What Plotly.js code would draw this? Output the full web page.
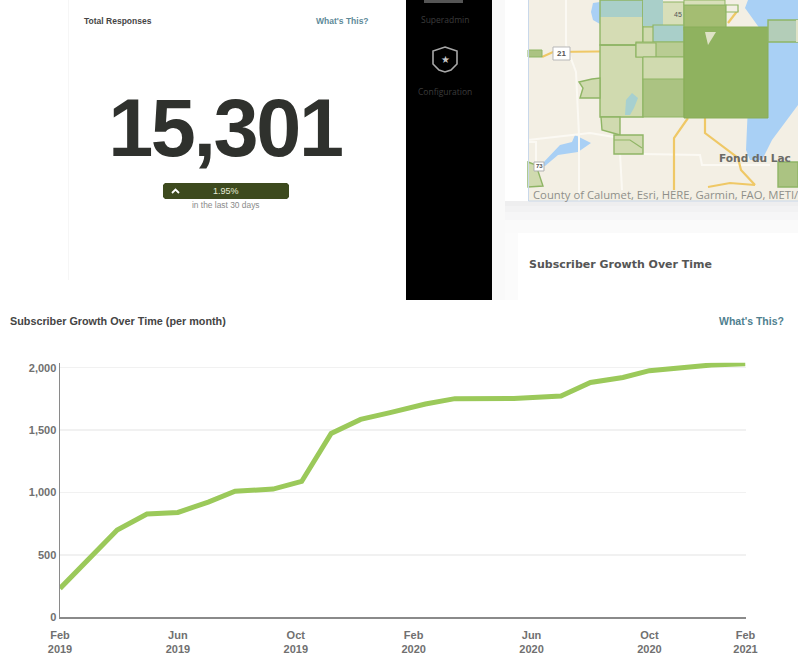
<!DOCTYPE html>
<html><head><meta charset="utf-8">
<script src="https://cdn.plot.ly/plotly-3.0.1.min.js"></script>
<style>
html,body{margin:0;padding:0;background:#fff;}
#chart{width:798px;height:660px;}
.annotation[data-index="0"] text{letter-spacing:-2.4px;}
</style></head><body><div id="chart"></div>
<script>
const monthsSinceStart = [0,0.95,1.94,2.95,4,5.03,5.94,7.23,8.2,9.2,10.2,11.2,12.4,13.4,15.4,17,18,19.1,20,22.1,23.26];
const subscribers = [232,465,700,828,841,924,1010,1028,1089,1474,1586,1640,1709,1752,1754,1773,1882,1922,1976,2021,2032];
const xTickVals = [0,4,8,12,16,20,23.26];
const xTickText = ['Feb<br>2019','Jun<br>2019','Oct<br>2019','Feb<br>2020','Jun<br>2020','Oct<br>2020','Feb<br>2021'];
const yTickVals = [0,500,1000,1500,2000];
const yTickText = ['0','500','1,000','1,500','2,000'];

const W=798,H=660;
const fx=x=>x/W, fy=y=>1-y/H;
function poly(pts,fill,line,lw,open){
  const d=pts.map((p,i)=>(i?'L':'M')+fx(p[0]).toFixed(5)+' '+fy(p[1]).toFixed(5)).join(' ')+(open?'':' Z');
  return {type:'path',xref:'paper',yref:'paper',path:d,layer:'below',
    fillcolor:open?'rgba(0,0,0,0)':fill,line:{color:line||'rgba(0,0,0,0)',width:lw||0}};
}
function box(x0,y0,x1,y1,fill,line,lw){return poly([[x0,y0],[x1,y0],[x1,y1],[x0,y1]],fill,line,lw);}
function road(pts,c,w){return poly(pts,null,c||'#efc866',w||2.2,true);}
const G='#8fb565', L='#d0daaf', M='#abc382', D='#8fb25f', T='#a9cfc9', W2='#a9d0f5';
const shapes=[
  // page chrome
  box(68,0,69,280,'#f6f6f6'),
  box(406,0,492,300,'#000000'),
  box(492,0,505,300,'#f9f9f9'),
  box(505,201,798,206,'#eeeeef'),
  box(505,206,798,212,'#f2f2f3'),
  box(505,212,798,220,'#f6f6f7'),
  box(505,220,798,233,'#fafafa'),
  box(505,233,518,300,'#fbfbfb'),
  // map base
  box(528,0,798,201,'#f3efe4'),
  // water
  poly([[748,0],[798,0],[798,105],[772,140],[762,160],[750,160],[746,150],[748,105],[768,40],[745,8]],W2),
  poly([[541,165],[560,145],[572,142],[575,135],[591,143],[578,152],[558,155],[545,166]],W2),
  // white roads
  road([[566,0],[566,45],[576,72],[579,135],[579,201]],'#fbf9f3',2),
  road([[528,140],[590,133],[614,137]],'#fbf9f3',2),
  road([[528,142],[536,142],[536,185]],'#fbf9f3',2),
  road([[620,153],[622,190]],'#fbf9f3',2),
  road([[642,154],[700,155],[702,165],[770,165]],'#fbf9f3',2),
  // roads
  road([[542,57],[553,52],[640,51]]),
  road([[688,118],[674,138],[674,190]]),
  road([[705,118],[705,133],[738,158],[741,170],[755,185]]),
  road([[708,187],[730,183],[755,185]]),
  road([[728,23],[738,10]]),
  // townships
  poly([[593,3],[600,2],[600,24],[593,20],[591,12]],W2),
  box(600,0,643,24,T),
  box(600,17,643,45,'#d5dcb4'),
  box(600,45,643,117,L,G,1.4),
  box(600,0,643,45,'rgba(0,0,0,0)',G,1.4),
  box(643,2,684,27,'#d8dfb9',G,1.2),
  box(643,0,663,26,T),
  box(643,27,684,57,L,G,1.2),
  box(653,25,684,42,T,G,1.2),
  box(636,42,684,57,'#b9cc93',G,1.2),
  box(636,43,656,57,L,G,1.2),
  box(643,57,684,80,L,G,1),
  box(643,79,684,117,M,G,1.2),
  poly([[625,115],[626,100],[632,93],[638,98],[634,108],[630,115]],'#a7d0d0'),
  poly([[579,82],[592,79],[600,78],[600,98],[580,98],[583,88]],L,G,1.4),
  poly([[601,117],[620,117],[620,135],[602,130]],L,G,1.4),
  box(614,135,643,154,L,G,1.4),
  road([[614,140],[630,140],[642,148]],G,1.2),
  poly([[528,50],[542,50],[542,57],[528,57]],M,G,1),
  poly([[528,162],[536,165],[543,186],[528,187]],L,G,1.4),
  poly([[778,162],[798,162],[798,187],[778,187]],M,G,1.4),
  // central block
  box(684,5,726,30,'#a4bd72',G,1.2),
  box(684,0,725,5,'#d8dfb9',G,1),
  box(726,5,738,12,'#f3efe4',G,1.2),
  box(684,27,768,118,D,'#88ad58',1),
  poly([[705,32],[716,32],[708,45]],'#dfe2c6'),
  box(768,20,798,42,'#b3cdb8',G,1.4),
  box(796,20,798,42,'#dfe2c6'),
  // map frame
  road([[528.5,0],[528.5,201],[798,201]],'#c9d8ea',1),
  // map shields
  box(553,47,570,60,'#ffffff','#b8b8b8',1),
  box(534,162,544,171,'#ffffff','#b0b0b0',1),
  // pill
  poly([[165,183],[287,183],[289,185],[289,197],[287,199],[165,199],[163,197],[163,185]],'#3d4a1e'),
  road([[172,193],[175.5,189.5],[179,193]],'#ffffff',1.8),
  // sidebar icon
  box(424,0,463,3,'#555555'),
  poly([[445,47],[457,51],[457,64],[451,70],[445,72],[439,70],[433,64],[433,51]],'rgba(0,0,0,0)','#a8a8a8',1.6)
];
function note(text,x,y,size,color,anchor,weight,family){
  return {text:text,xref:'paper',yref:'paper',x:fx(x),y:fy(y),xanchor:anchor||'left',yanchor:'middle',showarrow:false,
    font:{size:size,color:color,weight:weight||400,family:family||'"Liberation Sans",Arial,sans-serif'}};
}
const annotations=[
  note('15,301',224.5,128,81,'#2f312d','center',700),
  note('Total Responses',82,21,8.5,'#454545','left',700),
  note("What's This?",371,21,8.5,'#5e8a99','right',700),
  note('1.95%',226,191,9,'#e8ecd8','center',400),
  note('in the last 30 days',225.5,205.5,8.4,'#8a8a8a','center'),
  note('Superadmin',445,19.5,8.5,'#3c3c3c','center',400,'"Open Sans",sans-serif'),
  note('Configuration',445,91,8.5,'#3c3c3c','center',400,'"Open Sans",sans-serif'),
  note('★',445,59.5,10,'#c8c8c8','center'),
  note('45',678,14,7,'#555555','center',400),
  note('21',561,53.5,8,'#555555','center',700),
  note('73',539,166.5,6,'#555555','center',700),
  note('Fond du Lac',755,158,10.6,'#6b6b66','center',700,'"DejaVu Sans",sans-serif'),
  note('County of Calumet, Esri, HERE, Garmin, FAO, METI/',531,194,11.3,'#8f8f8a','left',400,'"Open Sans",sans-serif'),
  note('Subscriber Growth Over Time',527,264.5,11,'#555555','left',700,'"DejaVu Sans",sans-serif'),
  note("What's This?",786,321,10.5,'#4f7f8f','right',700)
];
const tickFont={size:11,color:'#707070',family:'"Liberation Sans",Arial,sans-serif',weight:700};
const layout={
  width:W,height:H,margin:{l:0,r:0,t:0,b:0},autosize:false,showlegend:false,
  paper_bgcolor:'#ffffff',plot_bgcolor:'rgba(0,0,0,0)',
  title:{text:'Subscriber Growth Over Time (per month)',x:10/W,xanchor:'left',xref:'paper',y:fy(321),yanchor:'middle',
    font:{size:10.8,color:'#444444',weight:700,family:'"Liberation Sans",Arial,sans-serif'}},
  xaxis:{domain:[60/W,745.5/W],range:[0,23.26],tickmode:'array',tickvals:xTickVals,ticktext:xTickText,showgrid:false,zeroline:false,
    showline:true,linecolor:'#8a8a8a',linewidth:1.5,ticks:'outside',ticklen:7,tickcolor:'rgba(0,0,0,0)',tickangle:0,tickfont:tickFont,fixedrange:true},
  yaxis:{domain:[1-617.4/H,1-362.7/H],range:[0,2040],tickmode:'array',tickvals:yTickVals,ticktext:yTickText,showgrid:true,gridcolor:'#f1f1f1',gridwidth:1.6,zeroline:false,
    showline:true,linecolor:'#8a8a8a',linewidth:1.5,ticks:'outside',ticklen:0,tickcolor:'rgba(0,0,0,0)',tickfont:tickFont,fixedrange:true},
  shapes:shapes,annotations:annotations
};
const trace={x:monthsSinceStart,y:subscribers,type:'scatter',mode:'lines',cliponaxis:false,hoverinfo:'skip',
  line:{color:'#9bc95a',width:5,shape:'linear'}};
Plotly.newPlot('chart',[trace],layout,{staticPlot:true,displayModeBar:false,responsive:false});
</script></body></html>
